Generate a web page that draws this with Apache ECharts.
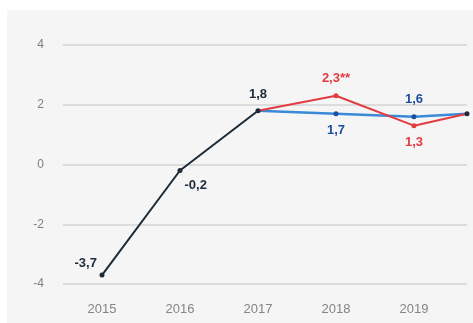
<!DOCTYPE html>
<html>
<head>
<meta charset="utf-8">
<script src="https://cdn.jsdelivr.net/npm/echarts@6/dist/echarts.min.js"></script>
<style>
  html, body { margin: 0; padding: 0; background: #ffffff; }
  #chart { width: 473px; height: 323px; }
</style>
</head>
<body>
<div id="chart"></div>
<script>
// Growth rates, % (decimal comma in labels)
const yearTicks = [2015, 2016, 2017, 2018, 2019];
const endX = 2019.68; // right edge of the plotted period

const actualYears = [2015, 2016, 2017];
const actualValues = [-3.7, -0.2, 1.8];

const redYears = [2017, 2018, 2019, endX];
const redValues = [1.8, 2.3, 1.3, 1.7];
const redLabels = ['', '2,3**', '1,3', ''];

const blueYears = [2017, 2018, 2019, endX];
const blueValues = [1.8, 1.7, 1.6, 1.7];
const blueLabels = ['', '1,7', '1,6', ''];

const yMin = -4, yMax = 4, yStep = 2;

const fmt = v => String(v).replace('.', ',');
const zip = (xs, ys) => xs.map((x, i) => [x, ys[i]]);

const DARK = '#1d2a38';
const RED = '#e23b40';
const BLUE_LINE = '#3a8ad8';
const BLUE_DARK = '#1c4f9f';

const chart = echarts.init(document.getElementById('chart'), null, { renderer: 'canvas' });

const labelFont = { fontFamily: 'Liberation Sans, Arial, sans-serif', fontWeight: 'bold', fontSize: 13 };

chart.setOption({
  animation: false,
  backgroundColor: '#ffffff',
  graphic: [{
    type: 'rect', left: 7, top: 10, z: -10,
    shape: { width: 466, height: 313 },
    style: { fill: '#f5f5f5' }
  }],
  grid: { left: 63, right: 6, top: 45, bottom: 39 },
  xAxis: {
    type: 'value',
    min: 2014.5,
    max: endX,
    interval: 0.5,
    axisLine: { show: false },
    axisTick: { show: false },
    splitLine: { show: false },
    axisLabel: {
      margin: 19,
      color: '#858585',
      fontSize: 13,
      fontFamily: 'Liberation Sans, Arial, sans-serif',
      formatter: v => (yearTicks.includes(v) ? String(v) : '')
    }
  },
  yAxis: {
    type: 'value',
    min: yMin, max: yMax, interval: yStep,
    axisLine: { show: false },
    axisTick: { show: false },
    axisLabel: {
      margin: 19,
      color: '#808080',
      fontSize: 12,
      fontFamily: 'Liberation Sans, Arial, sans-serif'
    },
    splitLine: { lineStyle: { color: '#d3d3d3', width: 1.5 } }
  },
  series: [
    {
      name: 'blue',
      type: 'line',
      data: zip(blueYears, blueValues).map((p, i) => ({
        value: p,
        symbolSize: i === 0 || i === 3 ? 0 : 5,
        label: {
          show: blueLabels[i] !== '',
          position: i === 1 ? 'bottom' : 'top',
          distance: 8,
          formatter: () => blueLabels[i]
        }
      })),
      symbol: 'circle',
      lineStyle: { color: BLUE_LINE, width: 2.5 },
      itemStyle: { color: BLUE_DARK },
      label: Object.assign({ color: BLUE_DARK }, labelFont),
      z: 2
    },
    {
      name: 'red',
      type: 'line',
      data: zip(redYears, redValues).map((p, i) => ({
        value: p,
        symbolSize: i === 0 ? 0 : 5,
        itemStyle: { color: i === 3 ? DARK : RED },
        label: {
          show: redLabels[i] !== '',
          position: i === 1 ? 'top' : 'bottom',
          distance: 8,
          formatter: () => redLabels[i]
        }
      })),
      symbol: 'circle',
      lineStyle: { color: RED, width: 2 },
      label: Object.assign({ color: RED }, labelFont),
      z: 3
    },
    {
      name: 'actual',
      type: 'line',
      data: zip(actualYears, actualValues).map((p, i) => ({
        value: p,
        label: {
          show: true,
          position: i === 0 ? [-25, -16] : i === 1 ? [7, 11] : 'top',
          distance: 7,
          formatter: () => fmt(actualValues[i])
        }
      })),
      symbol: 'circle',
      symbolSize: 5,
      lineStyle: { color: DARK, width: 2 },
      itemStyle: { color: DARK },
      label: Object.assign({ color: DARK }, labelFont),
      z: 4
    }
  ]
});
</script>
</body>
</html>
